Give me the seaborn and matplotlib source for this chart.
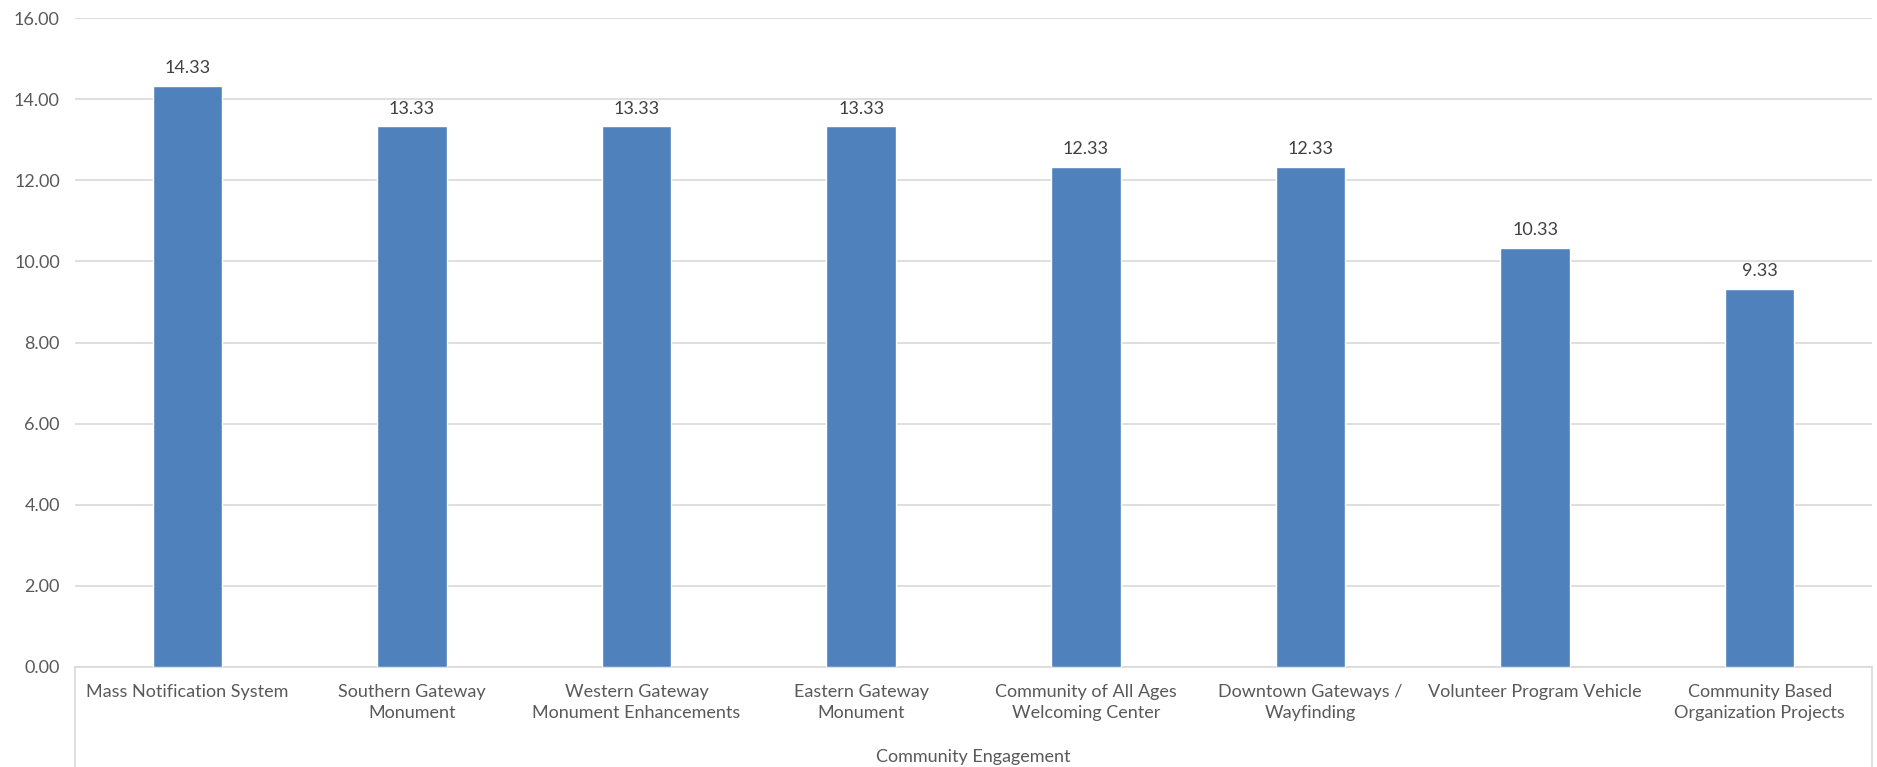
import matplotlib
matplotlib.use('Agg')
import matplotlib.pyplot as plt
import seaborn as sns
import pandas as pd

# data
categories = [
    "Mass Notification System",
    "Southern Gateway\nMonument",
    "Western Gateway\nMonument Enhancements",
    "Eastern Gateway\nMonument",
    "Community of All Ages\nWelcoming Center",
    "Downtown Gateways /\nWayfinding",
    "Volunteer Program Vehicle",
    "Community Based\nOrganization Projects",
]
scores = [14.33, 13.33, 13.33, 13.33, 12.33, 12.33, 10.33, 9.33]
group_label = "Community Engagement"
y_ticks = [0, 2, 4, 6, 8, 10, 12, 14, 16]

df = pd.DataFrame({"project": categories, "score": scores})

sns.set_theme(style="white")
plt.rcParams['font.family'] = ['Lato', 'DejaVu Sans']

text_color = '#595959'
grid_color = '#D9D9D9'

fig = plt.figure(figsize=(18.77, 7.67), dpi=100)
ax = fig.add_axes([0.040, 0.1304, 0.9573, 0.8461])

sns.barplot(data=df, x="project", y="score", color='#4F81BD', width=0.31,
            saturation=1, ax=ax, zorder=3)

for c in ax.containers:
    ax.bar_label(c, fmt='%.2f', padding=7, fontsize=13, color='#404040')

ax.set_ylim(0, 16)
ax.set_xlim(-0.5, len(categories) - 0.5)
ax.set_yticks(y_ticks)
ax.set_yticklabels([f"{v:.2f}" for v in y_ticks], fontsize=13, color=text_color)
ax.yaxis.grid(True, color=grid_color, linewidth=1.2, zorder=0)
ax.set_axisbelow(True)
ax.tick_params(axis='y', length=0, pad=11)
ax.tick_params(axis='x', length=0, pad=12)
ax.set_xticks(range(len(categories)))
ax.set_xticklabels(categories, fontsize=13, color=text_color, linespacing=1.45)
ax.set_xlabel("")
ax.set_ylabel("")

for side in ['left', 'right', 'top']:
    ax.spines[side].set_visible(False)
ax.spines['bottom'].set_color(grid_color)
ax.spines['bottom'].set_linewidth(1.2)

# group box lines below the axis
ax.plot([0, 0], [0, -0.16], transform=ax.transAxes, color=grid_color,
        linewidth=1.2, clip_on=False)
ax.plot([1, 1], [0, -0.16], transform=ax.transAxes, color=grid_color,
        linewidth=1.2, clip_on=False)
ax.text(0.5, -0.138, group_label, transform=ax.transAxes, ha='center',
        va='center', fontsize=13, color=text_color)

plt.savefig('out.png', dpi=100)
plt.close()
